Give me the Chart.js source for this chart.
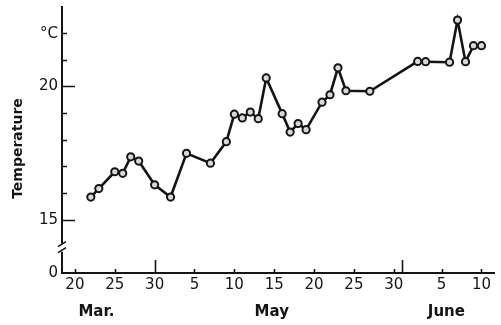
<!DOCTYPE html>
<html>
<head>
<meta charset="utf-8">
<script src="https://cdn.jsdelivr.net/npm/chart.js@4"></script>
<style>
  html, body { margin: 0; padding: 0; background: #fff; }
  #wrap { width: 501px; height: 325px; }
</style>
</head>
<body>
<div id="wrap"><canvas id="c" width="501" height="325"></canvas></div>
<script>
// Day numbers counted from the 1st of the first month (20 = the 20th, 31 = 1st of next month ...)
const days  = [22, 23, 25, 26, 27, 28, 30, 32, 34, 37, 39, 40, 41, 42, 43, 44,
               46, 47, 48, 49, 51, 52, 53, 54, 57, 63, 64, 67, 68, 69, 70, 71];
// Temperature in °C
const temps = [15.85, 16.17, 16.8, 16.74, 17.36, 17.2, 16.31, 15.85, 17.49, 17.12, 17.93, 18.96,
               18.82, 19.04, 18.79, 20.32, 18.98, 18.29, 18.61, 18.38, 19.41, 19.69, 20.7, 19.84,
               19.82, 20.94, 20.93, 20.91, 22.49, 20.93, 21.53, 21.53];

// x axis ticks
const xTickDays   = [20, 25, 30, 35, 40, 45, 50, 55, 60, 66, 71];
const xTickLabels = ['20', '25', '30', '5', '10', '15', '20', '25', '30', '5', '10'];
const monthEnds   = [30, 61];
const monthLabels = ['Mar.', 'May', 'June'];
const monthCentres = [22.7, 44.7, 66.6];

// y axis ticks (the axis is broken below 15, its foot is labelled 0)
const yTickValues = [13, 15, 20, 22];
const yTickLabels = ['0', '15', '20', '°C'];
const yMinorTicks = [16, 17, 18, 19, 21];
const yMajor = [15, 20];

const INK = '#141414';
const FONT = '"DejaVu Sans", sans-serif';

const axesPlugin = {
  id: 'handAxes',
  afterDraw(chart) {
    const { ctx, chartArea: a, scales: { x, y } } = chart;
    ctx.save();
    ctx.strokeStyle = INK;
    ctx.fillStyle = INK;
    ctx.lineCap = 'butt';

    // axis lines
    ctx.lineWidth = 2;
    ctx.beginPath();
    ctx.moveTo(a.left, a.top);
    ctx.lineTo(a.left, a.bottom);
    ctx.lineTo(a.right, a.bottom);
    ctx.stroke();

    // y axis break
    const yb = (y.getPixelForValue(14.1) + y.getPixelForValue(13.8)) / 2;
    ctx.fillStyle = '#fff';
    ctx.fillRect(a.left - 3, yb - 4, 6, 8);
    ctx.fillStyle = INK;
    ctx.lineWidth = 1.6;
    ctx.beginPath();
    ctx.moveTo(a.left - 4, yb - 1); ctx.lineTo(a.left + 4, yb - 6);
    ctx.moveTo(a.left - 4, yb + 5); ctx.lineTo(a.left + 4, yb);
    ctx.stroke();

    // y ticks (inward)
    ctx.lineWidth = 1.6;
    ctx.beginPath();
    yMinorTicks.concat([22]).forEach(v => {
      const py = Math.round(y.getPixelForValue(v)) + 0.5;
      ctx.moveTo(a.left, py); ctx.lineTo(a.left + 5, py);
    });
    yMajor.forEach(v => {
      const py = Math.round(y.getPixelForValue(v)) + 0.5;
      ctx.moveTo(a.left, py); ctx.lineTo(a.left + 13, py);
    });
    ctx.stroke();

    // x ticks (inward)
    ctx.beginPath();
    xTickDays.forEach(d => {
      const px = Math.round(x.getPixelForValue(d)) + 0.5;
      ctx.moveTo(px, a.bottom + 1); ctx.lineTo(px, a.bottom - 4);
    });
    monthEnds.forEach(d => {
      const px = Math.round(x.getPixelForValue(d)) + 0.5;
      ctx.moveTo(px, a.bottom); ctx.lineTo(px, a.bottom - 13);
    });
    ctx.stroke();

    // y tick labels
    ctx.font = '15px ' + FONT;
    ctx.textAlign = 'right';
    ctx.textBaseline = 'middle';
    yTickValues.forEach((v, i) => {
      let py = y.getPixelForValue(v);
      if (yTickLabels[i] === '°C') py += 1;
      ctx.fillText(yTickLabels[i], a.left - 4, py);
    });

    // x tick labels
    ctx.textAlign = 'center';
    xTickDays.forEach((d, i) => {
      ctx.fillText(xTickLabels[i], x.getPixelForValue(d), a.bottom + 12);
    });

    // month labels
    ctx.font = 'bold 15px ' + FONT;
    monthLabels.forEach((m, i) => {
      ctx.fillText(m, x.getPixelForValue(monthCentres[i]), a.bottom + 39);
    });

    // y axis title
    ctx.font = 'bold 14px ' + FONT;
    ctx.translate(18, (a.top + a.bottom) / 2 + 9);
    ctx.rotate(-Math.PI / 2);
    ctx.fillText('Temperature', 0, 0);
    ctx.restore();
  }
};

new Chart(document.getElementById('c'), {
  type: 'line',
  data: {
    datasets: [{
      data: days.map((d, i) => ({ x: d, y: temps[i] })),
      borderColor: INK,
      borderWidth: 2.6,
      pointRadius: 3.6,
      pointBorderWidth: 2,
      pointBorderColor: INK,
      pointBackgroundColor: '#d8d8d8',
      tension: 0,
      clip: false
    }]
  },
  options: {
    responsive: false,
    animation: false,
    events: [],
    layout: { padding: { left: 62, right: 3, top: 5, bottom: 52 } },
    plugins: { legend: { display: false }, tooltip: { enabled: false } },
    scales: {
      x: { type: 'linear', min: 18.38, max: 72.7, display: false },
      y: { type: 'linear', min: 13.0, max: 23.02, display: false }
    }
  },
  plugins: [axesPlugin]
});
</script>
</body>
</html>
